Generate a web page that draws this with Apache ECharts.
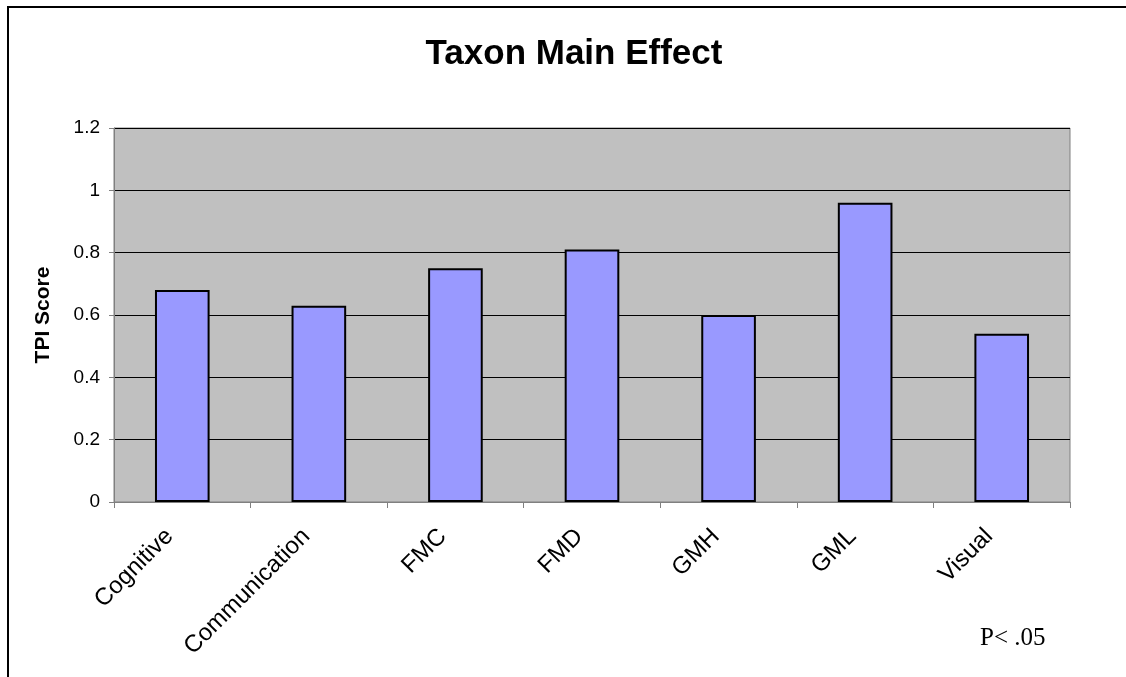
<!DOCTYPE html>
<html>
<head>
<meta charset="utf-8">
<style>
    html, body { margin: 0; padding: 0; background: #fff; }
    #chart_container { width: 1126px; height: 677px; }
</style>
</head>
<body>
    <div id="chart_container"></div>

    <script type="text/javascript" src="https://cdn.jsdelivr.net/npm/echarts@6/dist/echarts.min.js"></script>
    <script type="text/javascript">
        var categories = ['Cognitive', 'Communication', 'FMC', 'FMD', 'GMH', 'GML', 'Visual'];
        var tpiScores = [0.68, 0.63, 0.75, 0.81, 0.60, 0.96, 0.54];
        var yTicks = [0, 0.2, 0.4, 0.6, 0.8, 1, 1.2];

        var dom = document.getElementById('chart_container');
        var myChart = echarts.init(dom);

        var option = {
            backgroundColor: '#ffffff',
            animation: false,
            title: {
                text: 'Taxon Main Effect',
                left: 569,
                top: 32,
                textAlign: 'center',
                textStyle: {
                    fontFamily: 'Liberation Sans',
                    fontWeight: 'bold',
                    fontSize: 35,
                    color: '#000'
                }
            },
            grid: {
                left: 114,
                right: 56,
                top: 128,
                bottom: 175,
                show: true,
                backgroundColor: '#c0c0c0',
                borderColor: '#808080',
                borderWidth: 1
            },
            xAxis: {
                type: 'category',
                data: categories,
                axisLine: { lineStyle: { color: '#808080', width: 1 } },
                axisTick: { show: true, alignWithLabel: false, length: 6, lineStyle: { color: '#808080' } },
                axisLabel: {
                    rotate: 45,
                    margin: 18,
                    padding: [0, 18, 0, 0],
                    fontFamily: 'Liberation Sans',
                    fontSize: 24,
                    color: '#000'
                }
            },
            yAxis: {
                type: 'value',
                min: yTicks[0],
                max: yTicks[yTicks.length - 1],
                interval: 0.2,
                name: 'TPI Score',
                nameLocation: 'middle',
                nameGap: 60,
                nameTextStyle: {
                    fontFamily: 'Liberation Sans',
                    fontWeight: 'bold',
                    fontSize: 21,
                    color: '#000'
                },
                axisLine: { show: true, lineStyle: { color: '#808080', width: 1 } },
                axisTick: { show: true, length: 5, lineStyle: { color: '#808080' } },
                axisLabel: {
                    margin: 14,
                    fontFamily: 'Liberation Sans',
                    fontSize: 19,
                    color: '#000',
                    formatter: function (v) { return String(Math.round(v * 10) / 10); }
                },
                splitLine: { show: true, lineStyle: { color: '#000', width: 1 } }
            },
            series: [{
                type: 'bar',
                data: tpiScores,
                barCategoryGap: '60%',
                itemStyle: {
                    color: '#9999ff',
                    borderColor: '#000',
                    borderWidth: 2
                }
            }],
            graphic: [
                {
                    type: 'polyline',
                    shape: { points: [[8, 700], [8, 7], [1140, 7]] },
                    style: { stroke: '#000', lineWidth: 2, fill: null }
                },
                {
                    type: 'text',
                    left: 980,
                    top: 626,
                    style: {
                        text: 'P< .05',
                        font: '25px "Liberation Serif"',
                        fill: '#000'
                    }
                }
            ]
        };

        myChart.setOption(option, true);
    </script>
</body>
</html>
